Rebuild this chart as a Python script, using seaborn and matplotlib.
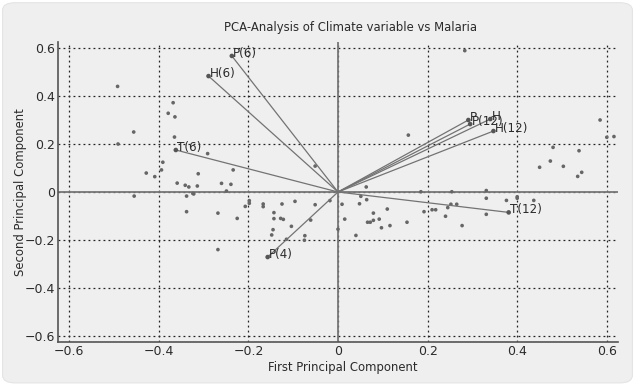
import matplotlib
matplotlib.use("Agg")
import matplotlib.pyplot as plt
import seaborn as sns
import pandas as pd
from matplotlib.patches import FancyBboxPatch

# ---- data -------------------------------------------------------------
score_x = [-0.492, -0.456, -0.491, -0.368, -0.379, -0.364, -0.365, -0.291, -0.391, -0.394,
           -0.428, -0.409, -0.234, -0.312, -0.359, -0.341, -0.333, -0.314, -0.260, -0.239,
           -0.249, -0.051, -0.455, -0.338, -0.322, -0.338, -0.268, -0.268, -0.225, -0.207,
           -0.198, -0.198, -0.167, -0.167, -0.125, -0.096, -0.051, -0.018, -0.143, -0.143,
           -0.128, -0.122, -0.104, -0.145, -0.148, -0.061, -0.074, -0.075, -0.115, 0.000,
           0.063, 0.185, 0.254, 0.331, 0.376, 0.400, 0.437, 0.331, 0.277, 0.265,
           0.252, 0.245, 0.240, 0.218, 0.210, 0.192, 0.051, 0.064, 0.048, 0.009,
           0.015, 0.110, 0.079, 0.066, 0.072, 0.079, 0.092, 0.097, 0.116, 0.154,
           0.040, 0.157, 0.585, 0.600, 0.616, 0.480, 0.538, 0.450, 0.474, 0.503,
           0.544, 0.535, 0.283, 0.331, 0.400, -0.324]
score_y = [0.440, 0.250, 0.200, 0.372, 0.328, 0.313, 0.229, 0.160, 0.124, 0.092,
           0.079, 0.064, 0.092, 0.076, 0.037, 0.028, 0.021, 0.025, 0.036, 0.032,
           0.004, 0.108, -0.017, -0.017, -0.008, -0.082, -0.088, -0.240, -0.110, -0.060,
           -0.036, -0.047, -0.050, -0.061, -0.050, -0.039, -0.053, -0.036, -0.086, -0.111,
           -0.110, -0.114, -0.143, -0.157, -0.179, -0.117, -0.182, -0.201, -0.197, -0.155,
           0.021, 0.001, 0.001, -0.026, -0.035, -0.026, -0.035, -0.093, -0.140, -0.051,
           -0.051, -0.065, -0.101, -0.074, -0.074, -0.082, -0.018, -0.032, -0.049, -0.051,
           -0.113, -0.071, -0.088, -0.126, -0.126, -0.118, -0.113, -0.149, -0.140, -0.126,
           -0.181, 0.237, 0.300, 0.228, 0.231, 0.186, 0.172, 0.103, 0.129, 0.107,
           0.082, 0.065, 0.589, 0.006, -0.020, -0.006]

vec_labels = ["P(6)", "H(6)", "T(6)", "P(4)", "T(12)", "P", "P(12)", "H", "H(12)"]
vec_x = [-0.237, -0.289, -0.362, -0.157, 0.381, 0.291, 0.295, 0.340, 0.347]
vec_y = [0.567, 0.483, 0.175, -0.271, -0.085, 0.300, 0.283, 0.304, 0.254]

ticks = [-0.6, -0.4, -0.2, 0, 0.2, 0.4, 0.6]
tick_labels = ["\u22120.6", "\u22120.4", "\u22120.2", "0", "0.2", "0.4", "0.6"]

title = "PCA-Analysis of Climate variable vs Malaria"
xlabel = "First Principal Component"
ylabel = "Second Principal Component"

# ---- style ------------------------------------------------------------
bg = "#efefef"
sns.set_style("white", {"axes.facecolor": bg})
plt.rcParams["font.family"] = ["DejaVu Sans"]
txt = "#2b2b2b"

fig = plt.figure(figsize=(6.35, 3.86), dpi=100, facecolor="white")
bgpatch = FancyBboxPatch((0.004, 0.008), 0.992, 0.985,
                         boxstyle="round,pad=0,rounding_size=0.02",
                         transform=fig.transFigure, facecolor=bg,
                         edgecolor="#e4e4e4", linewidth=0.8, zorder=-10)
fig.patches.append(bgpatch)
ax = fig.add_axes([58 / 635, 1 - 342 / 386, 560 / 635, 300 / 386])
ax.set_zorder(1)
ax.set_facecolor(bg)

# grid
for t in ticks:
    ax.axvline(t, color="#222222", lw=0.9, ls=(0, (1.5, 2.5)), zorder=1)
    ax.axhline(t, color="#222222", lw=0.9, ls=(0, (1.5, 2.5)), zorder=1)
ax.axhline(0, color="#777777", lw=1.3, zorder=2)
ax.axvline(0, color="#777777", lw=1.3, zorder=2)

df = pd.DataFrame({"pc1": score_x, "pc2": score_y})
sns.scatterplot(data=df, x="pc1", y="pc2", ax=ax, s=7, color="#666666",
                edgecolor="none", zorder=3)

for lab, vx, vy in zip(vec_labels, vec_x, vec_y):
    ax.plot([0, vx], [0, vy], color="#737373", lw=0.9, zorder=4)
vdf = pd.DataFrame({"vx": vec_x, "vy": vec_y})
sns.scatterplot(data=vdf, x="vx", y="vy", ax=ax, s=11, color="#555555",
                edgecolor="none", zorder=5)
for lab, vx, vy in zip(vec_labels, vec_x, vec_y):
    ax.text(vx + 0.003, vy + 0.012, lab, fontsize=8.6, color=txt,
            ha="left", va="center", zorder=6)

ax.set_xlim(-0.625, 0.625)
ax.set_ylim(-0.625, 0.625)
ax.set_xticks(ticks)
ax.set_xticklabels(tick_labels)
ax.set_yticks(ticks)
ax.set_yticklabels(tick_labels)
ax.tick_params(labelsize=9, colors=txt, length=0, pad=2)
for s in ["top", "right"]:
    ax.spines[s].set_visible(False)
for s in ["left", "bottom"]:
    ax.spines[s].set_color("#555555")
    ax.spines[s].set_linewidth(1.2)
ax.set_xlabel("")
ax.set_ylabel("")

fig.text(351 / 635, 1 - 28 / 386, title, ha="center", va="center", fontsize=8.4, color=txt)
fig.text(343 / 635, 1 - 367 / 386, xlabel, ha="center", va="center", fontsize=8.4, color=txt)
fig.text(21 / 635, 1 - 192 / 386, ylabel, ha="center", va="center", fontsize=8.4,
         color=txt, rotation=90)

fig.savefig("out.png", dpi=100, facecolor="white")
